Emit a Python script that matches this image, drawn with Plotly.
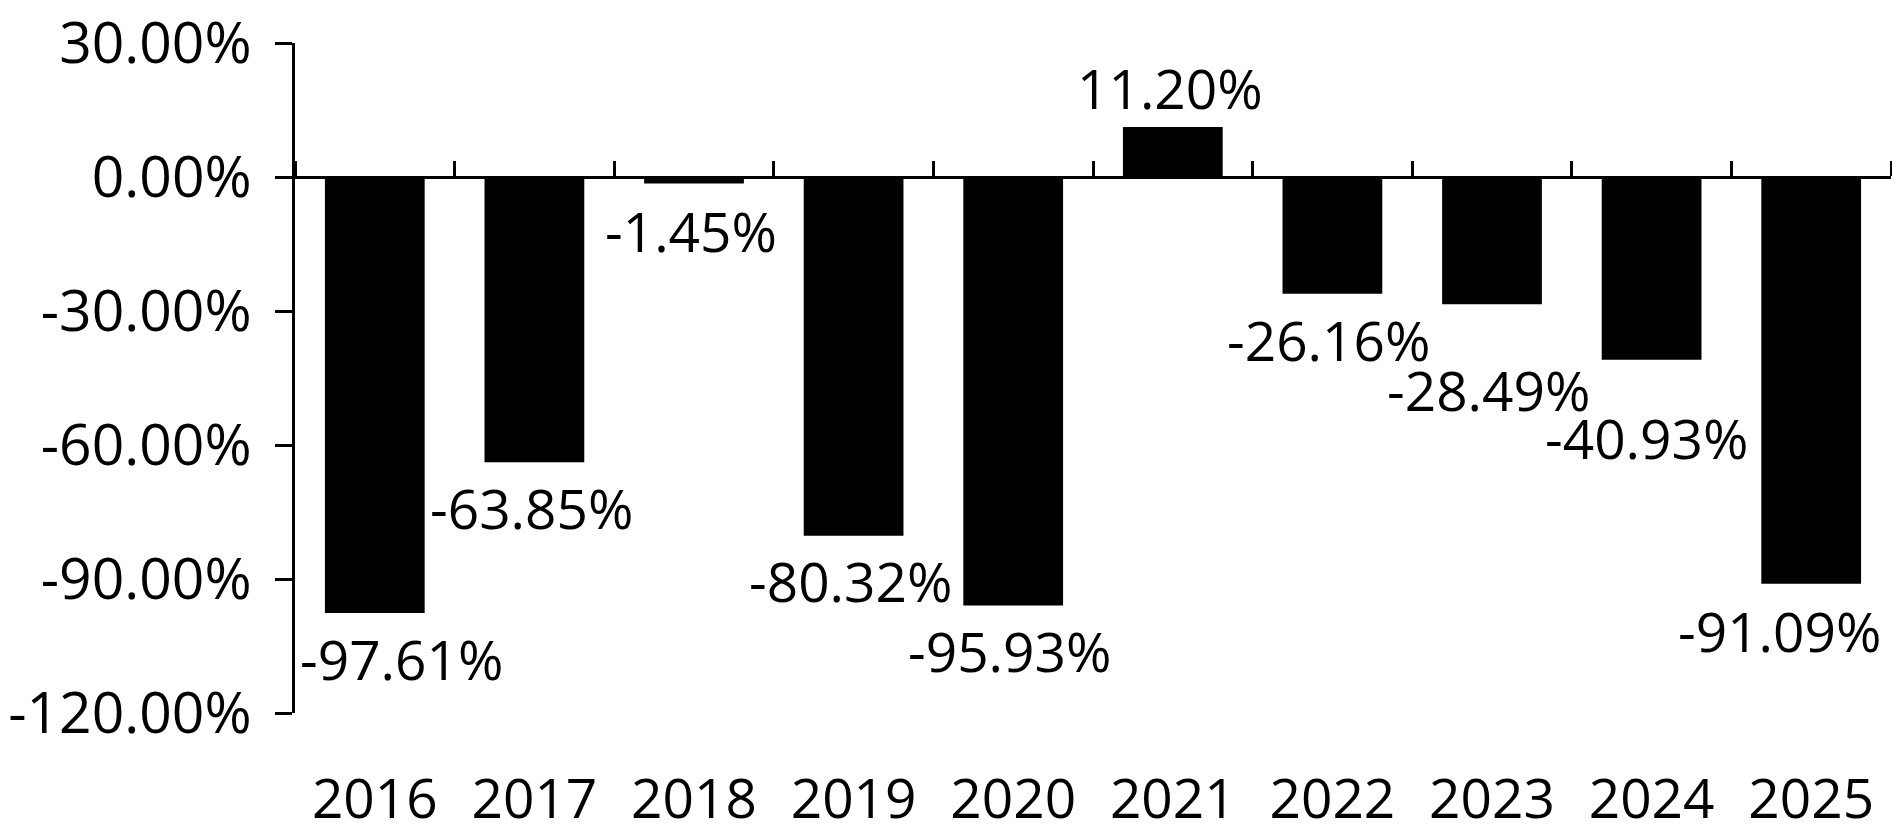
import plotly.graph_objects as go

years = ["2016", "2017", "2018", "2019", "2020", "2021", "2022", "2023", "2024", "2025"]
returns = [-97.61, -63.85, -1.45, -80.32, -95.93, 11.20, -26.16, -28.49, -40.93, -91.09]
y_ticks = [30, 0, -30, -60, -90, -120]

# label placement (pixel offsets of the label centre from the bar end)
label_dy = [46, 45, 47, 45, 45, 39, 46, 85, 78, 47]
label_dx = [27, -3, -3, -3, -4, -3, -4, -4, -5, -32]

FONT = "Open Sans"

fig = go.Figure()
fig.add_trace(go.Bar(
    x=years, y=returns, marker=dict(color="black", line=dict(width=0)),
    xaxis="x", yaxis="y", hoverinfo="skip",
))
# invisible trace to carry the bottom category labels
fig.add_trace(go.Bar(
    x=years, y=returns, marker=dict(color="rgba(0,0,0,0)", line=dict(width=0)),
    xaxis="x2", yaxis="y", hoverinfo="skip", showlegend=False,
))

annotations = []
for i, (v, dy, dx) in enumerate(zip(returns, label_dy, label_dx)):
    annotations.append(dict(
        x=i, y=v, xref="x", yref="y", text=f"{v:.2f}%", showarrow=False,
        xanchor="center", yanchor="middle",
        yshift=(dy if v >= 0 else -dy), xshift=dx,
        font=dict(family=FONT, size=55, color="black"),
    ))

zero_pos = (0 - min(y_ticks)) / (max(y_ticks) - min(y_ticks))
x_range = [-0.5, len(years) - 0.5]

fig.update_layout(
    width=1892, height=825,
    margin=dict(l=287, r=9, t=35, b=120, autoexpand=False),
    paper_bgcolor="white", plot_bgcolor="white",
    showlegend=False,
    bargap=0.375,
    annotations=annotations,
    yaxis=dict(
        range=[min(y_ticks), max(y_ticks)], tickvals=y_ticks,
        ticktext=[f"{t:.2f}%" for t in y_ticks],
        showline=True, linecolor="black", linewidth=3,
        ticks="outside", ticklen=17, tickwidth=3, tickcolor="black",
        showgrid=False, zeroline=False,
        tickfont=dict(family=FONT, size=57, color="black"),
        ticklabelstandoff=12, ticklabeloverflow="allow",
    ),
    xaxis=dict(
        type="category", categoryorder="array", categoryarray=years,
        range=x_range,
        anchor="free", position=zero_pos, side="top",
        showline=True, linecolor="black", linewidth=3,
        ticks="outside", ticklen=15, tickwidth=3, tickcolor="black",
        tickson="boundaries", showticklabels=False, showgrid=False,
        zeroline=False,
    ),
    xaxis2=dict(
        type="category", categoryorder="array", categoryarray=years,
        range=x_range,
        overlaying="x", anchor="y", side="bottom",
        showline=False, ticks="", showgrid=False, zeroline=False,
        tickfont=dict(family=FONT, size=55, color="black"),
        ticklabelstandoff=49, ticklabeloverflow="allow",
    ),
)

fig.write_html("out.html")
